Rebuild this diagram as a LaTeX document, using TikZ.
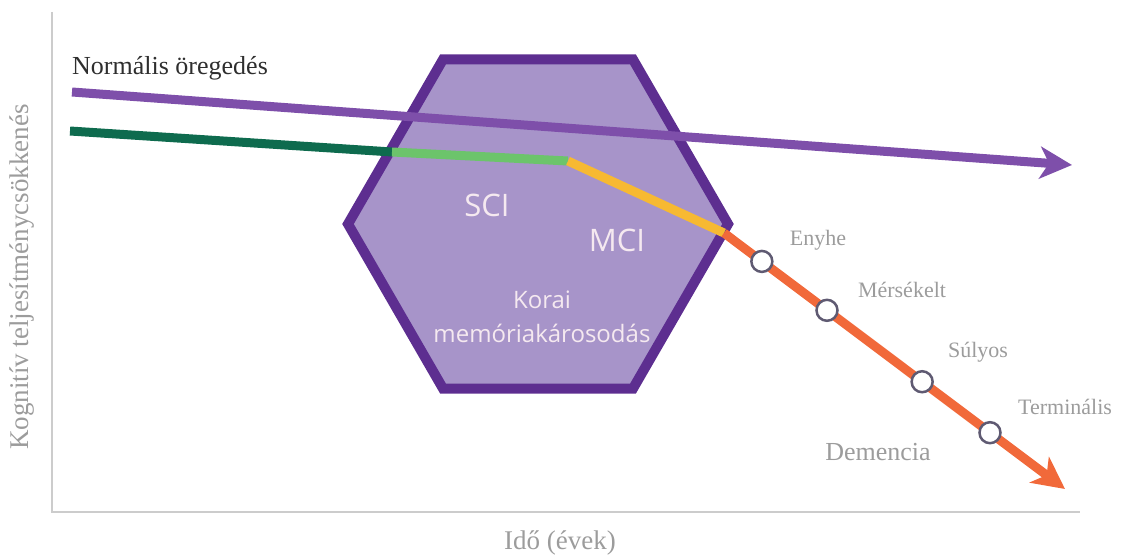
\documentclass[tikz,border=0pt]{standalone}
\usepackage{fontspec}
\setmainfont{Liberation Serif}
\newfontfamily\hexfont{Open Sans}
\usetikzlibrary{arrows.meta, calc, shapes.geometric}

\definecolor{aging}{HTML}{7E4FAA}
\definecolor{hexfill}{HTML}{A794C9}
\definecolor{hexborder}{HTML}{5D2E90}
\definecolor{earlygreen}{HTML}{0E6B4E}
\definecolor{scigreen}{HTML}{6CC46B}
\definecolor{mciyellow}{HTML}{F7B932}
\definecolor{dementia}{HTML}{F1693A}
\definecolor{stagering}{HTML}{5F5A72}
\definecolor{labelgray}{HTML}{9C9C9C}
\definecolor{axisgray}{HTML}{CCCCCC}
\definecolor{normaltext}{HTML}{2E2E2E}
\definecolor{hexwhite}{HTML}{F5E9F0}

\tikzset{
    axis/.style={draw=axisgray, line width=2pt},
    track/.style={line width=9pt},
    bigtip/.style={-{Stealth[length=32pt, width=32pt, inset=9pt]}},
    stage/.style={circle, draw=stagering, fill=white, line width=2.5pt,
        minimum size=21pt, inner sep=0pt},
    stagelabel/.style={text=labelgray, font=\fontsize{22}{24}\selectfont},
    axislabel/.style={text=labelgray, font=\fontsize{27}{29}\selectfont},
    hextext/.style={text=hexwhite, font=\hexfont\fontsize{24}{26}\selectfont},
}

\begin{document}
\begin{tikzpicture}[x=1pt, y=-1pt]
    \useasboundingbox (0,0) rectangle (1124,559);

    % axes
    \coordinate (ytop) at (52,12);
    \coordinate (origin) at (52,512);
    \coordinate (xend) at (1080,512);
    \draw[axis] (ytop) -- (origin) -- (xend);
    \node[axislabel, rotate=90] (ylabel) at (22,277) {Kognitív teljesítménycsökkenés};
    \node[axislabel] (xlabel) at (560,543) {Idő (évek)};

    % early memory impairment
    \node[regular polygon, regular polygon sides=6, minimum size=380pt,
        draw=hexborder, fill=hexfill, line width=10pt, inner sep=0pt] (hex) at (538,224) {};
    \node[hextext, font=\hexfont\fontsize{31}{33}\selectfont] (sci) at (487,205) {SCI};
    \node[hextext, font=\hexfont\fontsize{31}{33}\selectfont] (mci) at (617,240) {MCI};
    \node[hextext] (korai) at (542,300) {Korai};
    \node[hextext] (memoria) at (542,333) {memóriakárosodás};

    % decline
    \coordinate (g0) at (70,131);
    \coordinate (g1) at (392,152);
    \coordinate (g2) at (568,161);
    \coordinate (g3) at (724,233);
    \coordinate (g4) at (1065,489);
    \draw[track, draw=earlygreen] (g0) -- (g1);
    \draw[track, draw=scigreen] (g1) -- (g2);
    \draw[track, draw=mciyellow] (g2) -- (g3);
    \draw[track, draw=dementia, bigtip] (g3) -- (g4);

    % normal aging
    \coordinate (n0) at (72,92);
    \coordinate (n1) at (1072,165);
    \draw[track, draw=aging, bigtip] (n0) -- (n1);
    \node[anchor=base west, inner sep=0pt, text=normaltext,
        font=\fontsize{26}{28}\selectfont] (normlabel) at (72,75) {Normális öregedés};

    % dementia stages
    \node[stage] (mild) at ($(g3)!0.111!(g4)$) {};
    \node[stage] (moderate) at ($(g3)!0.302!(g4)$) {};
    \node[stage] (severe) at ($(g3)!0.581!(g4)$) {};
    \node[stage] (terminal) at ($(g3)!0.78!(g4)$) {};
    \node[stagelabel] (mildlabel) at (818,240) {Enyhe};
    \node[stagelabel] (moderatelabel) at (902,290) {Mérsékelt};
    \node[stagelabel] (severelabel) at (978,352) {Súlyos};
    \node[stagelabel] (terminallabel) at (1065,407) {Terminális};
    \node[stagelabel, font=\fontsize{26}{28}\selectfont] (dementialabel) at (878,452) {Demencia};
\end{tikzpicture}
\end{document}
